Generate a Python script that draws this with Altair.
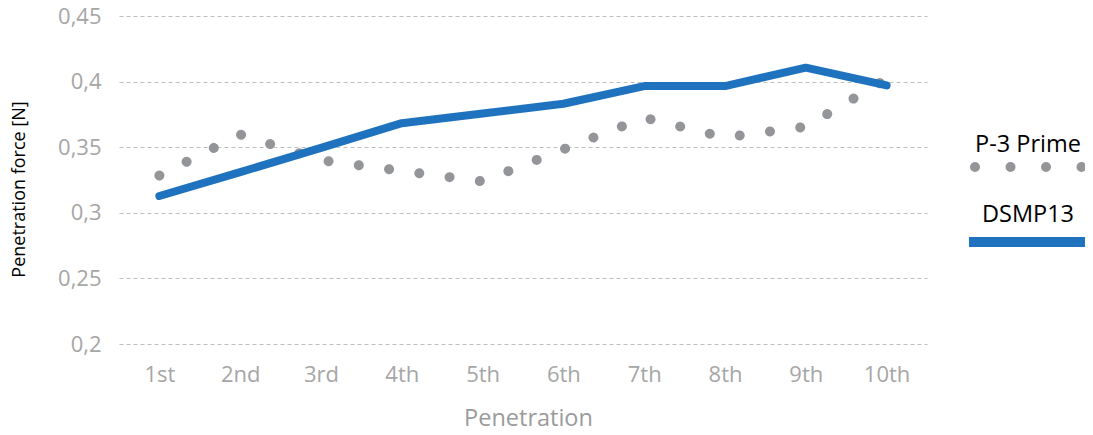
import altair as alt
import pandas as pd

categories = ["1st", "2nd", "3rd", "4th", "5th", "6th", "7th", "8th", "9th", "10th"]
p3_prime = [0.3284, 0.3597, 0.3401, 0.3319, 0.3239, 0.3484, 0.3725, 0.3574, 0.3656, 0.4019]
dsmp13 = [0.3128, 0.3310, 0.3495, 0.3683, 0.3757, 0.3831, 0.3966, 0.3966, 0.4106, 0.3971]
series_names = ["P-3 Prime", "DSMP13"]
y_ticks = [0.2, 0.25, 0.3, 0.35, 0.4, 0.45]

GRAY = "#939598"
BLUE = "#1f73be"
LABEL = "#a6a6a6"
FONT = "Open Sans"

df = pd.DataFrame({
    "cat": categories * 2,
    "value": p3_prime + dsmp13,
    "series": [series_names[0]] * len(categories) + [series_names[1]] * len(categories),
})

x_enc = alt.X(
    "cat:N", sort=categories,
    scale=alt.Scale(type="point", padding=0.5),
    axis=alt.Axis(
        title="Penetration", labelAngle=0, labelFontSize=22, labelColor=LABEL,
        labelFont=FONT, labelPadding=20, domain=False, ticks=False, grid=False,
        titleFontSize=23.5, titleColor="#9b9b9b", titleFont=FONT, titleFontWeight="normal",
        titleX=409, titleY=81, titleAlign="center", titleBaseline="alphabetic",
    ),
)
y_enc = alt.Y(
    "value:Q",
    scale=alt.Scale(domain=[0.2, 0.45], nice=False, zero=False),
    axis=alt.Axis(
        title="Penetration force [N]", values=y_ticks,
        labelExpr="replace(format(datum.value, '.2~f'), '.', ',')",
        labelFontSize=22, labelColor=LABEL, labelFont=FONT, labelPadding=18,
        domain=False, ticks=False, grid=True, gridColor="#bfbfbf", gridDash=[4, 3],
        gridWidth=1, titleFontSize=18, titleColor="#000000", titleFont=FONT,
        titleFontWeight="normal", titleX=-91, titleY=173, titleAngle=270,
        titleAlign="center", titleBaseline="bottom",
    ),
)

base = alt.Chart(df)

gray_line = base.transform_filter(alt.datum.series == series_names[0]).mark_line(
    color=GRAY, strokeWidth=10, strokeCap="round", strokeDash=[0.01, 30.5]
).encode(x=x_enc, y=y_enc)

blue_line = base.transform_filter(alt.datum.series == series_names[1]).mark_line(
    color=BLUE, strokeWidth=8, strokeCap="round", strokeJoin="round"
).encode(x=x_enc, y=y_enc)

leg_df = pd.DataFrame({"name": series_names})
leg = alt.Chart(leg_df)

leg_text1 = leg.transform_filter(alt.datum.name == series_names[0]).mark_text(
    font=FONT, fontSize=23.5, color="#000000", align="center", baseline="alphabetic"
).encode(text="name:N", x=alt.value(909), y=alt.value(136))

leg_dots = leg.transform_filter(alt.datum.name == series_names[0]).mark_rule(
    color=GRAY, strokeWidth=10, strokeCap="round", strokeDash=[0.01, 35.5]
).encode(x=alt.value(856), x2=alt.value(965), y=alt.value(151))

leg_text2 = leg.transform_filter(alt.datum.name == series_names[1]).mark_text(
    font=FONT, fontSize=23.5, color="#000000", align="center", baseline="alphabetic"
).encode(text="name:N", x=alt.value(909), y=alt.value(206))

leg_bar = leg.transform_filter(alt.datum.name == series_names[1]).mark_rule(
    color=BLUE, strokeWidth=10
).encode(x=alt.value(850), x2=alt.value(966), y=alt.value(226))

chart = alt.layer(gray_line, blue_line, leg_text1, leg_dots, leg_text2, leg_bar).properties(
    width=808, height=328,
    autosize=alt.AutoSizeParams(type="none"),
    padding={"left": 111, "top": 8, "right": 158, "bottom": 83},
).configure_view(stroke=None)

chart.save("out.html", embed_options={"renderer": "svg", "actions": False})
